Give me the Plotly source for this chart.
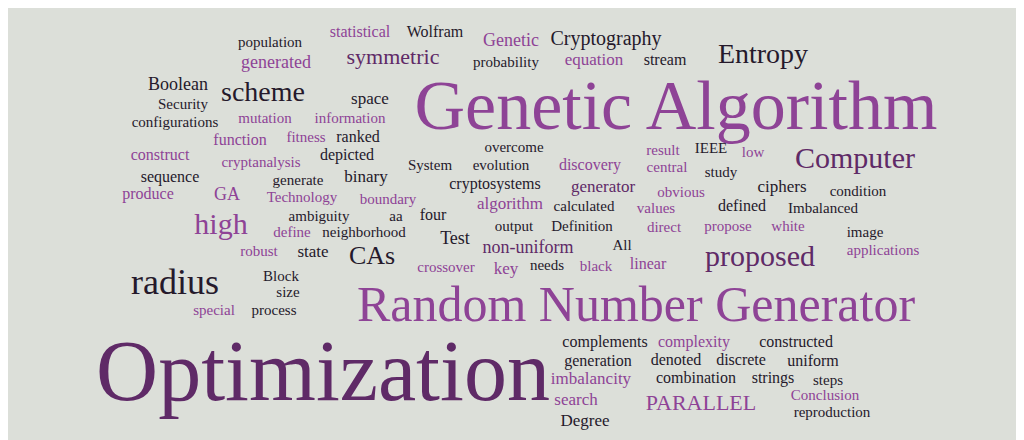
import plotly.graph_objects as go

words = ["population", "statistical", "Wolfram", "Genetic", "Cryptography", "generated",
         "symmetric", "probability", "equation", "stream", "Entropy", "Boolean", "scheme",
         "space", "Genetic Algorithm", "Security", "mutation", "information", "configurations",
         "function", "fitness", "ranked", "overcome", "result", "IEEE", "low", "Computer",
         "construct", "depicted", "cryptanalysis", "System", "evolution", "discovery", "central",
         "study", "sequence", "binary", "generate", "cryptosystems", "generator", "obvious",
         "ciphers", "condition", "produce", "GA", "Technology", "boundary", "algorithm",
         "calculated", "values", "defined", "Imbalanced", "high", "ambiguity", "aa", "four",
         "output", "Definition", "direct", "propose", "white", "image", "define", "neighborhood",
         "Test", "robust", "state", "CAs", "non-uniform", "All", "proposed", "applications",
         "crossover", "key", "needs", "black", "linear", "radius", "Block", "size", "special",
         "process", "Random Number Generator", "complements", "complexity", "constructed",
         "Optimization", "generation", "denoted", "discrete", "uniform", "imbalancity",
         "combination", "strings", "steps", "search", "PARALLEL", "Conclusion", "reproduction",
         "Degree"]

# word weight (rendered font size in px)
weights = [15, 16, 16, 18, 20, 18, 22, 15, 17, 16, 28, 18, 28, 17, 70, 15, 15, 15, 15,
           16, 15, 16, 15, 15, 15, 15, 30, 16, 16, 15, 15, 15, 16, 15, 15, 16, 17, 15, 16,
           17, 15, 17, 15, 16, 18, 15, 15, 17, 15, 15, 16, 15, 30, 15, 15, 16, 15, 15, 15,
           15, 15, 15, 15, 15, 18, 15, 17, 26, 18, 15, 30, 15, 15, 17, 15, 15, 16, 36, 15,
           15, 15, 15, 50, 16, 16, 16, 86, 16, 16, 16, 16, 17, 16, 16, 15, 17, 22, 15, 15, 17]

# colour group per word: d dark, p purple, m deep purple
groups = ["d", "p", "d", "p", "d", "p", "m", "d", "p", "d", "d", "d", "d", "d", "p", "d",
          "p", "p", "d", "p", "p", "d", "d", "p", "d", "p", "m", "p", "d", "p", "d", "d",
          "p", "p", "d", "d", "d", "d", "d", "m", "p", "d", "d", "p", "p", "p", "p", "p",
          "d", "p", "d", "d", "p", "d", "d", "d", "d", "d", "p", "p", "p", "d", "p", "d",
          "d", "p", "d", "d", "m", "d", "m", "p", "p", "p", "d", "p", "p", "d", "d", "d",
          "p", "d", "p", "d", "p", "d", "m", "d", "d", "d", "d", "p", "d", "d", "d", "p",
          "p", "p", "d", "d"]

xs = [262, 352, 427, 503, 598, 268, 385, 498, 586, 657, 755, 170, 255, 362, 668, 175, 257,
      342, 167, 232, 298, 350, 506, 655, 703, 745, 847, 152, 339, 253, 422, 493, 582, 659,
      713, 162, 358, 290, 487, 595, 673, 774, 850, 140, 219, 294, 380, 502, 576, 648, 734,
      815, 213, 311, 388, 425, 506, 574, 656, 720, 780, 857, 284, 356, 447, 251, 305, 364,
      520, 614, 752, 875, 438, 498, 539, 588, 640, 167, 273, 280, 206, 266, 628, 597, 686,
      788, 315, 590, 668, 733, 805, 583, 688, 765, 820, 568, 693, 817, 824, 577]
ys = [35, 25, 25, 33, 32, 55, 50, 55, 53, 53, 48, 77, 86, 92, 103, 97, 111, 111, 115, 133,
      130, 130, 140, 143, 141, 145, 152, 148, 148, 155, 158, 158, 158, 160, 165, 170, 170,
      173, 177, 180, 185, 180, 184, 187, 187, 190, 192, 197, 199, 201, 199, 201, 218, 209,
      209, 208, 219, 219, 220, 219, 219, 225, 225, 225, 231, 244, 245, 249, 240, 238, 250,
      243, 260, 262, 258, 259, 257, 277, 269, 285, 303, 303, 300, 335, 335, 335, 370, 354,
      353, 353, 354, 372, 371, 371, 373, 393, 396, 388, 405, 414]

palette = {"d": "#25192b", "p": "#8e4396", "m": "#5f2a67"}
colors = [palette[g] for g in groups]

fig = go.Figure(go.Scatter(
    x=xs, y=ys, text=words, mode="text", textposition="middle center",
    textfont=dict(family="Liberation Serif", size=weights, color=colors),
    hoverinfo="text",
))
fig.update_layout(
    width=1024, height=440, margin=dict(l=0, r=0, t=0, b=0),
    paper_bgcolor="#dcdfd9", plot_bgcolor="#dcdfd9", showlegend=False,
    xaxis=dict(range=[0, 1024], visible=False),
    yaxis=dict(range=[440, 0], visible=False),
)
fig.write_html("out.html")
